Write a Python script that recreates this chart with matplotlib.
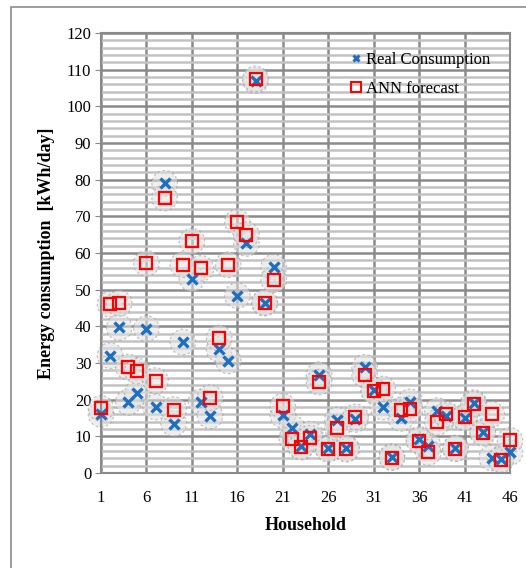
import matplotlib
matplotlib.use("Agg")
import matplotlib.pyplot as plt
from matplotlib.patches import Rectangle
from matplotlib.lines import Line2D
import numpy as np

households = list(range(1, 47))
real_consumption = [16.0, 32.0, 39.7, 19.3, 21.8, 39.4, 18.0, 79.0, 13.5, 35.7,
                    53.0, 19.4, 15.6, 33.7, 30.6, 48.4, 62.6, 107.0, 46.3, 56.1,
                    15.8, 12.4, 7.3, 10.6, 26.8, 6.7, 14.4, 6.7, 14.6, 28.8,
                    22.6, 18.0, 4.4, 14.9, 19.4, 9.2, 7.4, 17.0, 15.6, 6.8,
                    15.0, 19.2, 11.3, 4.1, 3.8, 5.6]
ann_forecast = [17.6, 46.0, 46.3, 28.9, 27.8, 57.2, 25.2, 75.0, 17.3, 56.8,
                63.2, 55.8, 20.5, 36.8, 56.8, 68.4, 65.0, 107.5, 46.5, 52.7,
                18.2, 9.3, 7.1, 9.5, 24.8, 6.5, 12.3, 6.5, 15.3, 26.8,
                22.4, 22.9, 4.2, 17.1, 17.5, 8.8, 5.6, 13.8, 16.0, 6.6,
                15.2, 18.8, 10.9, 16.0, 3.6, 8.9]
x_ticks = [1, 6, 11, 16, 21, 26, 31, 36, 41, 46]
y_ticks = list(range(0, 121, 10))

serif = ["Liberation Serif", "DejaVu Serif"]
plt.rcParams["font.family"] = serif

fig = plt.figure(figsize=(5.26, 5.68), dpi=100)
ax = fig.add_axes([101/526, 1-473/568, (510-101)/526, (473-33)/568])

# outer chart frame
fig.patches.append(Rectangle((11/526, -0.2), 1.2, 1.2 - 7/568,
                             transform=fig.transFigure, fill=False,
                             edgecolor="#8c8c8c", linewidth=1.2))

ax.set_xlim(1, 46)
ax.set_ylim(0, 120)
ax.set_xticks(x_ticks)
ax.set_yticks(y_ticks)
ax.set_yticks(np.arange(0, 121, 2), minor=True)
ax.tick_params(axis="x", which="both", length=0, labelsize=12, pad=12)
ax.tick_params(axis="y", which="major", length=4, color="#888888", labelsize=12, pad=3)
ax.tick_params(axis="y", which="minor", length=0)
ax.grid(True, which="major", axis="both", color="#8a8a8a", linewidth=1.8)
ax.grid(True, which="minor", axis="y", color="#c2c2c2", linewidth=1.8)
ax.set_axisbelow(True)
for s in ax.spines.values():
    s.set_color("#8a8a8a")
    s.set_linewidth(1.5)

# glow shadows
for vals in (real_consumption, ann_forecast):
    ax.scatter(households, vals, s=340, facecolor="#e0e0e0", alpha=0.55,
               edgecolor="#9a9a9a", linewidths=0.9, linestyle=(0, (2, 2)),
               zorder=2, clip_on=False)

ax.plot(households, real_consumption, linestyle="none", marker="x",
        markersize=6.5, markeredgewidth=2.4, color="#1f6fc0", zorder=3, clip_on=False)
ax.plot(households, ann_forecast, linestyle="none", marker="s",
        markersize=8, markerfacecolor="none", markeredgecolor="#ff0000",
        markeredgewidth=1.6, zorder=4, clip_on=False)

ax.set_xlabel("Household", fontsize=13, fontweight="bold", labelpad=8)
ax.set_ylabel("Energy consumption  [kWh/day]", fontsize=13, fontweight="bold", labelpad=8)

handles = [Line2D([], [], linestyle="none", marker="x", markersize=5,
                  markeredgewidth=2.2, color="#1f6fc0"),
           Line2D([], [], linestyle="none", marker="s", markersize=6.5,
                  markerfacecolor="none", markeredgecolor="#ff0000", markeredgewidth=1.5)]
leg = ax.legend(handles, ["Real Consumption", "ANN forecast"], loc="upper left",
                bbox_to_anchor=((351-101)/409, 1-(52-33)/440), frameon=False,
                fontsize=12, handlelength=0.6, handletextpad=0.3, labelspacing=0.8,
                borderpad=0, borderaxespad=0)

fig.savefig("out.png", dpi=100)
